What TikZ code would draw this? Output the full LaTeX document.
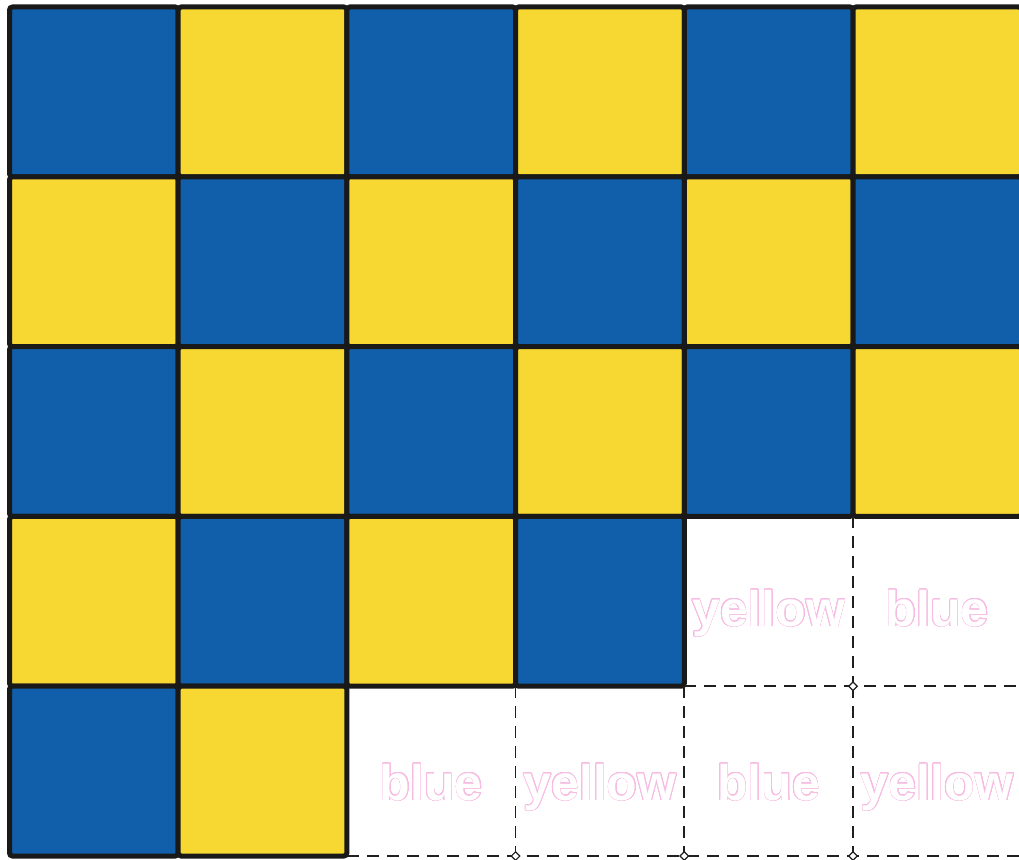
\documentclass[tikz,border=0pt]{standalone}
\usepackage{fontspec}
\setmainfont{Liberation Sans}
\usepackage{contour}
\contourlength{0.55pt}
\contournumber{32}
\usetikzlibrary{shapes.geometric}
\definecolor{cblue}{RGB}{17,94,170}
\definecolor{cyellow}{RGB}{247,215,50}
\definecolor{cpink}{RGB}{247,188,226}
\definecolor{cline}{RGB}{25,25,25}
\begin{document}
\begin{tikzpicture}[x=1pt,y=-1pt,
  cellbox/.style={draw=cline,line width=5pt,rounded corners=3pt,minimum width=168.7pt,minimum height=169.8pt,inner sep=0pt,outer sep=0pt},
  dashline/.style={draw=black!88,line width=1.7pt,dash pattern=on 12pt off 8pt},
  word/.style={font=\bfseries\fontsize{50}{50}\selectfont,text=white,anchor=base,inner sep=0pt},
  junction/.style={diamond,draw=black!88,fill=white,line width=1.2pt,minimum size=9pt,inner sep=0pt}
]
\useasboundingbox[fill=white] (0,0) rectangle (1019,859);
% grid coordinates
\foreach \r in {0,...,5}{
  \foreach \c in {0,...,6}{
    \coordinate (p-\r-\c) at ({9.5+168.7*\c},{7+169.8*\r});
  }
}
% coloured cells
\foreach \r/\c in {0/0,0/1,0/2,0/3,0/4,0/5,
                   1/0,1/1,1/2,1/3,1/4,1/5,
                   2/0,2/1,2/2,2/3,2/4,2/5,
                   3/0,3/1,3/2,3/3,
                   4/0,4/1}{
  \pgfmathtruncatemacro{\p}{mod(\r+\c,2)}
  \ifnum\p=0 \def\fc{cblue}\else\def\fc{cyellow}\fi
  \node[cellbox,fill=\fc] (c-\r-\c) at ({9.5+168.7*(\c+0.5)},{7+169.8*(\r+0.5)}) {};
}
% dashed empty cells
\draw[dashline] (p-3-5) -- (p-4-5);
\draw[dashline] (p-4-4) -- (p-4-6);
\draw[dashline] (p-4-3) -- (p-5-3);
\draw[dashline] (p-4-4) -- (p-5-4);
\draw[dashline] (p-4-5) -- (p-5-5);
\draw[dashline] (p-5-2) -- (p-5-6);
% junction marks
\node[junction] (j1) at (p-4-5) {};
\node[junction] (j2) at (p-5-3) {};
\node[junction] (j3) at (p-5-4) {};
\node[junction] (j4) at (p-5-5) {};
% words
\node[word] (w34) at ({9.5+168.7*4.5},{7+169.8*3.5+25}) {\contour{cpink}{yellow}};
\node[word] (w35) at ({9.5+168.7*5.5},{7+169.8*3.5+25}) {\contour{cpink}{blue}};
\node[word] (w42) at ({9.5+168.7*2.5},{7+169.8*4.5+29}) {\contour{cpink}{blue}};
\node[word] (w43) at ({9.5+168.7*3.5},{7+169.8*4.5+29}) {\contour{cpink}{yellow}};
\node[word] (w44) at ({9.5+168.7*4.5},{7+169.8*4.5+29}) {\contour{cpink}{blue}};
\node[word] (w45) at ({9.5+168.7*5.5},{7+169.8*4.5+29}) {\contour{cpink}{yellow}};
\end{tikzpicture}
\end{document}
